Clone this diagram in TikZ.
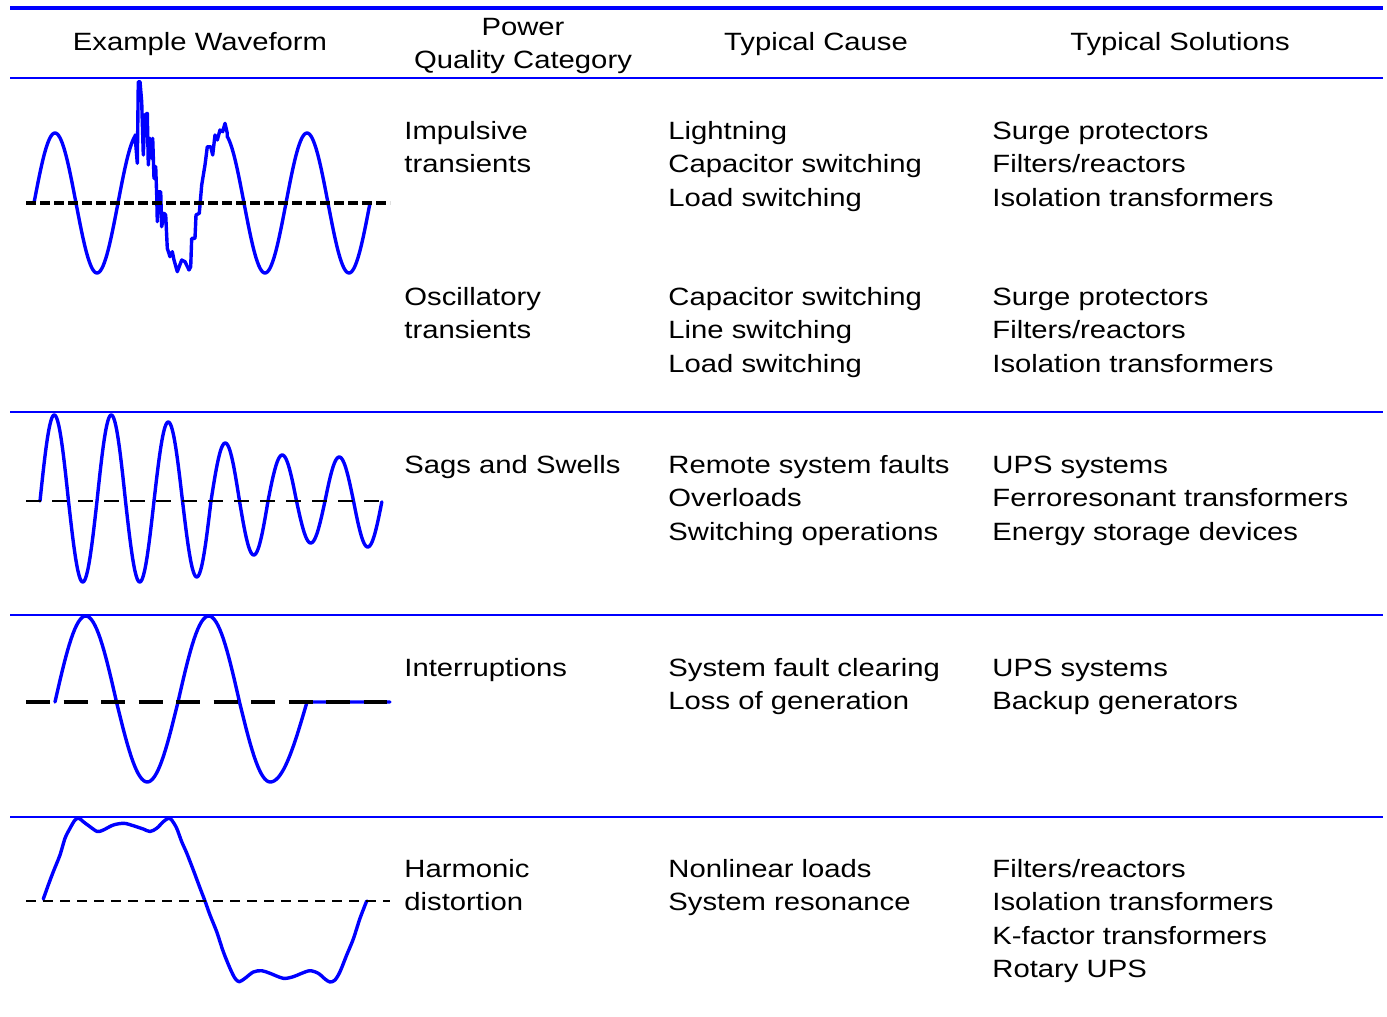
\documentclass[tikz,border=0pt]{standalone}
\usepackage{fontspec}
\setmainfont{Liberation Sans}
\usepackage{graphicx}
\definecolor{pqblue}{RGB}{0,0,255}
\newcommand\celltext[1]{\scalebox{1.17}[1]{\begin{tabular}[t]{@{}l@{}}#1\end{tabular}}}
\newcommand\headtext[1]{\scalebox{1.17}[1]{\begin{tabular}[t]{@{}c@{}}#1\end{tabular}}}
\begin{document}
\begin{tikzpicture}[x=0.5pt,y=-0.5pt,
  txt/.style={inner sep=0pt,anchor=base west,font=\fontsize{12.5}{16.8}\selectfont},
  hdr/.style={inner sep=0pt,anchor=base,font=\fontsize{12.5}{16.9}\selectfont},
  rule/.style={draw=pqblue,line width=1pt},
  wave/.style={draw=pqblue,line width=1.7pt,line join=round,line cap=round},
  zero/.style={draw=black,line width=1pt}]
\useasboundingbox (0,0) rectangle (1387,1017);

% table rules
\draw[rule,line width=2pt] (10,8) -- (1383,8);
\draw[rule,line width=1.3pt] (10,78) -- (1383,78);
\draw[rule] (10,412) -- (1383,412);
\draw[rule] (10,615) -- (1383,615);
\draw[rule] (10,817) -- (1383,817);

% header
\node[hdr] (hwave)  at (200,50)  {\headtext{Example Waveform}};
\node[hdr] (hcat)   at (523,35)  {\headtext{Power\\Quality Category}};
\node[hdr] (hcause) at (816,50)  {\headtext{Typical Cause}};
\node[hdr] (hsol)   at (1180,50) {\headtext{Typical Solutions}};

% row 1 : impulsive
\node[txt] (cat1)   at (404,139) {\celltext{Impulsive\\transients}};
\node[txt] (cause1) at (668,139) {\celltext{Lightning\\Capacitor switching\\Load switching}};
\node[txt] (sol1)   at (992,139) {\celltext{Surge protectors\\Filters/reactors\\Isolation transformers}};
% row 1b : oscillatory
\node[txt] (cat2)   at (404,305) {\celltext{Oscillatory\\transients}};
\node[txt] (cause2) at (668,305) {\celltext{Capacitor switching\\Line switching\\Load switching}};
\node[txt] (sol2)   at (992,305) {\celltext{Surge protectors\\Filters/reactors\\Isolation transformers}};
% row 2 : sags and swells
\node[txt] (cat3)   at (404,473) {\celltext{Sags and Swells}};
\node[txt] (cause3) at (668,473) {\celltext{Remote system faults\\Overloads\\Switching operations}};
\node[txt] (sol3)   at (992,473) {\celltext{UPS systems\\Ferroresonant transformers\\Energy storage devices}};
% row 3 : interruptions
\node[txt] (cat4)   at (404,676) {\celltext{Interruptions}};
\node[txt] (cause4) at (668,676) {\celltext{System fault clearing\\Loss of generation}};
\node[txt] (sol4)   at (992,676) {\celltext{UPS systems\\Backup generators}};
% row 4 : harmonic
\node[txt] (cat5)   at (404,877) {\celltext{Harmonic\\distortion}};
\node[txt] (cause5) at (668,877) {\celltext{Nonlinear loads\\System resonance}};
\node[txt] (sol5)   at (992,877) {\celltext{Filters/reactors\\Isolation transformers\\K-factor transformers\\Rotary UPS}};

% waveform 1 : impulsive transient
\draw[wave] plot[domain=0:433,samples=80] ({34+\x/360*84},{203-70*sin(\x)})
  -- (135,135) -- (137.3,163.3) -- (138.3,81.7) -- (140,81.7) -- (141.7,101.7)
  -- (143.3,155) -- (145,115) -- (147.3,113.3) -- (148.3,165) -- (150,138.3)
  -- (151.7,158.3) -- (152.7,138.3) -- (154,178.3) -- (155.7,166.7) -- (156.7,195)
  -- (157.3,221.7) -- (158.3,191.7) -- (160.7,191.7) -- (161.7,226.7) -- (164,213.3)
  -- (165.7,215) -- (167.3,248.3) -- (170,256.7) -- (172.3,251.7) -- (174,260)
  -- (177.3,271.7) -- (181.7,260) -- (185,261.7) -- (189,270) -- (190.7,266.7)
  -- (191.7,238.3) -- (195,238.3) -- (196,215) -- (199.3,213.3) -- (201.7,185)
  -- (205,165) -- (207.3,146.7) -- (210.7,146.7) -- (212.7,155) -- (215,135)
  -- (217.3,140) -- (220,130) -- (222.7,131.7) -- (225,123.3) -- (227.3,133.3)
  -- plot[domain=828:1440,samples=110] ({34+\x/360*84},{203-70*sin(\x)});
\draw[zero,line width=1.6pt,dash pattern=on 5pt off 2pt] (26,203) -- (390,203);

% waveform 2 : sags and swells
\draw[wave] plot[domain=0:2159,samples=433]
  ({40+\x/360*57},{501-{86,81,86,81,79,76,58,54,46,42,44,46}[int(\x/180)]*sin(\x)});
\draw[zero,dash pattern=on 7.5pt off 5.5pt] (26,501) -- (387,501);

% waveform 3 : interruption
\draw[wave] plot[domain=0:630,samples=120] ({55+\x/360*123},{702-(sin(\x)>0 ? 86 : 80)*sin(\x)})
  -- plot[domain=630:720,samples=20] ({270.25+(\x-630)/90*36.75},{702-80*sin(\x)})
  -- (390,702);
\draw[zero,line width=2pt,dash pattern=on 12pt off 6.75pt] (26,702) -- (387,702);

% waveform 4 : harmonic distortion
\draw[wave] plot[smooth,tension=0.5] coordinates {
  (43.3,899) (48.3,885) (53.3,871.7) (60,855) (65,838.3) (70,828.3) (75,820)
  (79,818.3) (83.3,821.7) (90,826.7) (97.3,831.5) (103.3,830) (113.3,825)
  (124,823.3) (133.3,825.7) (143.3,829) (150,831.5) (156.7,828.3) (163.3,821.7)
  (168.3,818.3) (171.7,820) (176.7,828.3) (181.7,841.7) (186.7,853) (193.3,870)
  (200,888) (205,901) (210,915) (216.7,931.7) (223.3,951.7) (230,968.3)
  (235,978.3) (239.3,981.7) (245,978.3) (253.3,972) (261.7,970.7) (270,973.3)
  (283.3,978.3) (293.3,976.7) (301.7,973.3) (310,970.7) (318.3,973.3) (325,979)
  (330,982) (335,980) (340,971.7) (346.7,955) (353.3,939) (360,918.3) (366.7,901)};
\draw[zero,dash pattern=on 5pt off 3.5pt] (26,901) -- (390,901);
\end{tikzpicture}
\end{document}
